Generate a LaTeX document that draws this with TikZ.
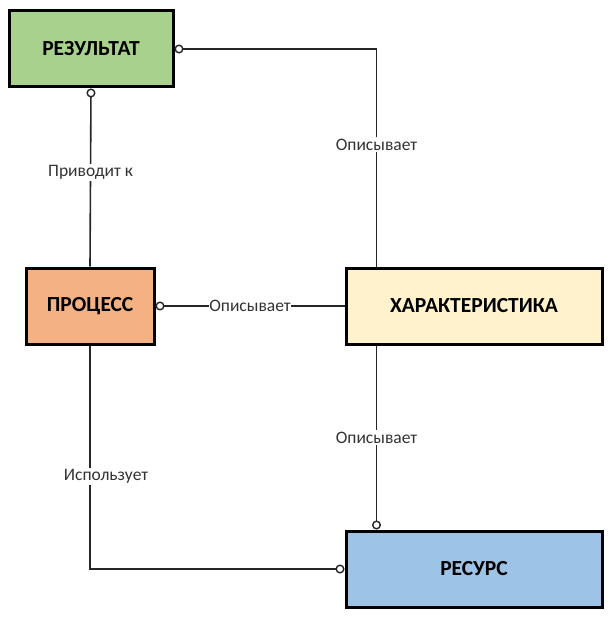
\documentclass[tikz,border=0pt]{standalone}
\usepackage{fontspec}
\setmainfont{Carlito}
\usetikzlibrary{arrows.meta,calc}
\definecolor{cgreen}{HTML}{A9D18E}
\definecolor{corange}{HTML}{F4B183}
\definecolor{cyellow}{HTML}{FFF2CC}
\definecolor{cblue}{HTML}{9DC3E6}
\begin{document}
\begin{tikzpicture}[x=1pt,y=-1pt,
  entity/.style={draw=black,line width=3pt,minimum height=76pt,font=\fontsize{21.5}{24}\selectfont\bfseries,inner sep=0pt},
  conn/.style={line width=1.6pt,draw=black!85},
  ostart/.style={{Circle[open,length=9pt,width=9pt,fill=white,line width=1.4pt]}-},
  oend/.style={-{Circle[open,length=9pt,width=9pt,fill=white,line width=1.4pt]}},
  lbl/.style={fill=white,inner sep=1.5pt,font=\fontsize{17.5}{20}\selectfont,text=black!80}]
\useasboundingbox (0,0) rectangle (608,617);
\node[entity,fill=cgreen,minimum width=164pt] (rez) at (91,49) {РЕЗУЛЬТАТ};
\node[entity,fill=corange,minimum width=128pt] (pro) at (90,306) {ПРОЦЕСС};
\node[entity,fill=cyellow,minimum width=256pt] (har) at (474,306) {ХАРАКТЕРИСТИКА};
\node[entity,fill=cblue,minimum width=256pt] (res) at (474,569) {РЕСУРС};
\coordinate (hartop) at ($(har.north west)+(32,0)$);
\coordinate (harbot) at ($(har.south west)+(32,0)$);
\coordinate (restop) at ($(res.north west)+(32,0)$);
\draw[conn,ostart] (rez.east) -| node[lbl,pos=0.72] {Описывает} (hartop);
\draw[conn,ostart] (rez.south) -- node[lbl,pos=0.47] {Приводит к} (pro.north);
\draw[conn,ostart] (pro.east) -- node[lbl,inner sep=0.5pt] {Описывает} (har.west);
\draw[conn,oend] (harbot) -- node[lbl] {Описывает} (restop);
\draw[conn,oend] (pro.south) |- node[lbl,pos=0.293,xshift=16pt] {Использует} (res.west);
\end{tikzpicture}
\end{document}
